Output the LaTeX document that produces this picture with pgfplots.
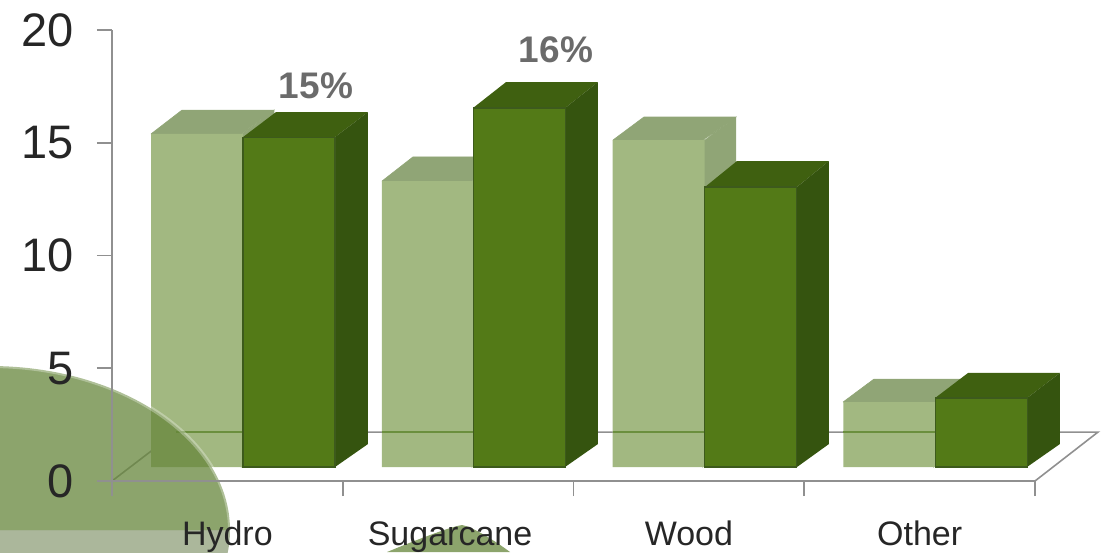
\documentclass[border=0pt]{standalone}
\usepackage{fontspec}
\setmainfont{Liberation Sans}
\usepackage{pgfplots}
\pgfplotsset{compat=1.18}

% front faces start at y=0 here, the printed 0 tick sits 14 px lower
\pgfplotstableread{
x      light dark
0.068  14.77 14.63
1.068  12.68 15.92
2.068  14.50 12.42
3.068   2.88  3.06
}\bardata

\definecolor{lightfront}{HTML}{A2B881}
\definecolor{lighttop}{HTML}{90A576}
\definecolor{darkfront}{HTML}{537A17}
\definecolor{darktop}{HTML}{3F6010}
\definecolor{darkside}{HTML}{35540F}
\definecolor{darkedge}{HTML}{3D5A1C}
\definecolor{axisgray}{HTML}{909090}
\definecolor{floorgreen}{HTML}{6B8F3E}
\definecolor{blobgreen}{HTML}{66863B}
\definecolor{blobband}{HTML}{ABB79B}

\begin{document}
\begin{tikzpicture}
\path[use as bounding box] (-112pt,-71pt) rectangle (991pt,481pt);
\begin{axis}[
  at={(0pt,0pt)}, anchor=south west,
  scale only axis,
  width=923pt, height=451pt,
  xmin=-0.5, xmax=3.5,
  ymin=-0.62, ymax=19.38,
  clip=false,
  axis on top,
  axis x line*=bottom,
  axis y line*=left,
  axis line style={draw=axisgray, line width=1.6pt},
  major tick style={draw=axisgray, line width=1.6pt},
  xtick={-0.5,0.5,1.5,2.5,3.5},
  xticklabels={},
  ytick={-0.62,4.38,9.38,14.38,19.38},
  yticklabels={0,5,10,15,20},
  tick align=outside,
  major tick length=15pt,
  extra x ticks={0,0.965,2,3},
  extra x tick labels={Hydro,Sugarcane,Wood,Other},
  extra x tick style={major tick length=0pt,
    tick label style={inner sep=0pt, yshift=-40pt, text height=24pt, text depth=7pt}},
  tick label style={font=\fontsize{34}{34}\selectfont, text=black!85},
  yticklabel style={font=\fontsize{47}{47}\selectfont, inner sep=0pt, xshift=-23pt},
]
% floor
\addplot[forget plot, draw=axisgray, line width=1.6pt, sharp plot]
  coordinates {(-0.5,-0.62) (-0.2226,1.55) (3.773,1.55) (3.5,-0.62)};

% light series, tops and sides
\addplot[forget plot, fill=lighttop, draw=lighttop, line width=0.6pt, unbounded coords=jump] coordinates {
  (-0.331,14.77) (0.0677,14.77) (0.202,15.83) (-0.1966,15.83) (-0.331,14.77) (nan,nan)
  (0.670,12.68) (1.0645,12.68) (1.199,13.75) (0.804,13.75) (0.670,12.68) (nan,nan)
  (1.671,14.50) (2.070,14.50) (2.204,15.52) (1.805,15.52) (1.671,14.50) (nan,nan)
  (2.668,2.88) (3.067,2.88) (3.201,3.90) (2.802,3.90) (2.668,2.88) (nan,nan)
  (0.060,14.77) (0.202,15.83) (0.202,1.02) (0.060,0) (0.060,14.77) (nan,nan)
  (1.060,12.68) (1.199,13.75) (1.199,1.02) (1.060,0) (1.060,12.68) (nan,nan)
  (2.060,14.50) (2.204,15.52) (2.204,1.02) (2.060,0) (2.060,14.50) (nan,nan)
  (3.060,2.88) (3.201,3.90) (3.201,1.02) (3.060,0) (3.060,2.88)
};
\addplot[forget plot, ybar, bar width=92pt, bar shift=-46pt, fill=lightfront, draw=none]
  table[x=x, y=light] {\bardata};
% back edge of the floor shows through the light bars
\addplot[forget plot, draw=floorgreen, line width=1.4pt, unbounded coords=jump] coordinates {
  (-0.2226,1.55) (0.0677,1.55) (nan,nan)
  (0.670,1.55) (1.0645,1.55) (nan,nan)
  (1.671,1.55) (2.070,1.55) (nan,nan)
  (2.668,1.55) (3.067,1.55)
};

% dark series
\addplot[forget plot, fill=darktop, draw=none, unbounded coords=jump] coordinates {
  (0.0677,14.63) (0.4664,14.63) (0.6094,15.74) (0.2107,15.74) (nan,nan)
  (1.0645,15.92) (1.4632,15.92) (1.606,17.07) (1.2075,17.07) (nan,nan)
  (2.070,12.42) (2.4686,12.42) (2.607,13.57) (2.2086,13.57) (nan,nan)
  (3.067,3.06) (3.4653,3.06) (3.608,4.17) (3.2097,4.17)
};
\addplot[forget plot, fill=darkside, draw=none, unbounded coords=jump] coordinates {
  (0.4664,14.63) (0.6094,15.74) (0.6094,1.02) (0.4664,0) (nan,nan)
  (1.4632,15.92) (1.606,17.07) (1.606,1.02) (1.4632,0) (nan,nan)
  (2.4686,12.42) (2.607,13.57) (2.607,1.02) (2.4686,0) (nan,nan)
  (3.4653,3.06) (3.608,4.17) (3.608,1.02) (3.4653,0)
};
\addplot[forget plot, ybar, bar width=92pt, bar shift=46pt, fill=darkfront, draw=darkedge, line width=1.2pt]
  table[x=x, y=dark] {\bardata};

% value labels
\node[font=\bfseries\fontsize{37}{37}\selectfont, text=black!58] at (axis cs:0.384,16.9) {15\%};
\node[font=\bfseries\fontsize{37}{37}\selectfont, text=black!58] at (axis cs:1.424,18.49) {16\%};

% slide decoration lying over the chart
\begin{scope}
  \clip (axis cs:-1.0287,-2.793) ellipse [x radius=240pt, y radius=164pt];
  \fill[blobband] (axis cs:-1.5,-2.793) rectangle (axis cs:0.5,-3.9);
\end{scope}
\fill[blobgreen, opacity=0.75] (axis cs:-1.0287,-2.793) ++(-240pt,0pt)
  arc [start angle=180, end angle=0, x radius=240pt, y radius=164pt] -- cycle;
\draw[white, opacity=0.3, line width=4pt] (axis cs:-1.0287,-2.793) ++(-240pt,0pt)
  arc [start angle=180, end angle=0, x radius=240pt, y radius=164pt];
\fill[blobgreen, opacity=0.75] (axis cs:0.692,-3.769) .. controls (axis cs:0.85,-3.1) and (axis cs:0.97,-2.65) .. (axis cs:1.017,-2.571)
  .. controls (axis cs:1.06,-2.65) and (axis cs:1.15,-3.2) .. (axis cs:1.225,-3.769) -- cycle;
\end{axis}
\end{tikzpicture}
\end{document}
